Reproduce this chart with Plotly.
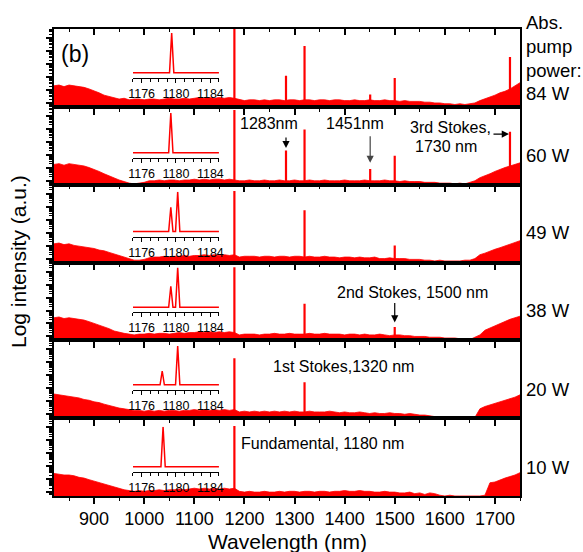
import plotly.graph_objects as go
import math

# ---------------- data ----------------
wl_start, wl_step = 820, 10
powers = ["84 W", "60 W", "49 W", "38 W", "20 W", "10 W"]

base_84 = [27,28,26,28,27,26,25,23,21,18, 15,13,11,10,11,9,10,10,9,10, 10,9,10,11,10,10,11,10,11,12,
           11,12,11,12,11,12,11,9,8,9, 9,8,9,8,9,9,8,9,9,8, 9,9,8,9,9,8,9,9,8,8,
           9,8,8,9,8,8,9,8,8,7, 8,7,7,7,6,6,5,5,4,4, 3,4,3,4,5,8,10,12,15,18, 20,23,27,31]
base_60 = [26,27,25,27,26,25,24,22,20,17, 14,11,8,6,4,2,1,2,3,5, 5,6,5,6,6,5,6,6,7,6,
           7,6,7,7,6,7,6,5,5,6, 5,5,6,5,5,6,5,5,6,5, 5,6,5,5,6,5,5,5,6,5,
           5,5,6,5,5,5,6,5,5,4, 5,4,4,4,3,3,3,2,2,2, 1,2,1,3,5,9,11,14,17,20, 22,24,26,28]
base_49 = [24,25,23,24,22,21,20,19,18,16, 15,13,11,9,7,5,3,3,4,6, 7,7,8,7,8,8,9,8,9,9,
           10,9,10,9,10,9,10,7,8,8, 8,7,8,8,7,8,8,7,8,8, 7,8,7,7,8,7,7,6,7,7,
           6,7,6,6,7,5,5,6,5,5, 5,4,4,4,3,3,2,3,2,2, 2,2,3,3,5,10,12,15,17,19, 21,23,25,28]
base_38 = [29,30,28,29,28,27,26,24,22,20, 18,15,12,10,9,8,7,8,8,9, 8,9,9,8,9,10,9,10,10,11,
           10,11,10,11,10,11,10,7,8,8, 8,7,8,8,9,8,8,9,8,8, 8,9,8,8,9,8,8,8,7,8,
           8,7,8,7,7,8,7,6,7,7, 6,6,5,5,5,4,4,4,3,3, 3,2,1,1,4,7,13,16,19,22, 24,27,29,31]
base_20 = [31,30,29,28,27,26,24,23,21,20, 18,16,15,13,12,11,10,10,9,10, 9,10,9,10,10,9,10,10,11,10,
           11,10,11,10,11,10,11,8,9,8, 9,8,9,8,9,8,9,8,9,8, 8,9,8,8,8,9,8,7,8,7,
           7,8,7,6,7,6,6,7,6,6, 5,6,5,4,4,3,2,2,1,2, 1,0,2,0,1,12,15,17,19,21, 23,25,27,30]
base_10 = [29,28,27,27,26,24,23,21,19,17, 15,13,11,9,8,7,6,7,6,7, 7,8,7,8,8,9,8,9,10,9,
           10,9,10,9,10,9,10,6,5,6, 5,5,6,5,5,6,5,6,6,5, 6,6,5,6,6,5,6,6,7,6,
           6,7,6,6,5,5,6,5,5,4, 4,5,3,4,2,4,3,1,0,1, 0,0,0,0,0,0,1,17,18,21, 23,25,27,30]
baselines = [base_84, base_60, base_49, base_38, base_20, base_10]

peak_wl = [[1180, 1283, 1320, 1451, 1500, 1730],
           [1180, 1283, 1320, 1451, 1500, 1730],
           [1180, 1320, 1500],
           [1180, 1320, 1500],
           [1180, 1320],
           [1180]]
peak_h = [[100, 40, 78, 16, 37, 64],
          [96, 44, 71, 20, 37, 68],
          [92, 67, 22],
          [94, 47, 17],
          [77, 46],
          [90]]

inset_wl = [[1179.5], [1179.4], [1179.4, 1180.2], [1179.4, 1180.2], [1178.4, 1180.2], [1178.5]]
inset_h = [[1.0], [1.0], [0.61, 1.0], [0.53, 1.0], [0.35, 0.98], [1.0]]

main_ticks = [900, 1000, 1100, 1200, 1300, 1400, 1500, 1600, 1700]
inset_ticks = [1176, 1180, 1184]

# ---------------- layout helpers ----------------
RED = "#ff0000"
FONT = "Liberation Sans, Arial, sans-serif"
inset_dom = [(0.373, 0.95), (0.346, 0.92), (0.333, 0.91), (0.36, 0.936), (0.365, 0.936), (0.31, 0.89)]

fig = go.Figure()
layout = dict(
    width=583, height=552,
    margin=dict(l=54, r=63, t=29, b=56),
    paper_bgcolor="white", plot_bgcolor="rgba(0,0,0,0)",
    showlegend=False,
    font=dict(family=FONT, color="black"),
)

# log-like y ticks
dec = 100 / 6.0
major_y = [5 + k * dec for k in range(-1, 7)]
minor_y = []
for m in major_y:
    for j in range(2, 10):
        minor_y.append(m + math.log10(j) * dec)
major_y = [v for v in major_y if 0 <= v <= 100]
minor_y = [v for v in minor_y if 0 <= v <= 100]

n = len(powers)
for i in range(n):
    k = i + 1
    sfx = "" if k == 1 else str(k)
    bot = 1 - (i + 1) / n
    top = 1 - i / n
    xs = [wl_start + wl_step * j for j in range(len(baselines[i]))]
    fig.add_trace(go.Scatter(x=xs, y=baselines[i], mode="lines", fill="tozeroy",
                             line=dict(color=RED, width=0.8), fillcolor=RED,
                             xaxis="x" + sfx, yaxis="y" + sfx, hoverinfo="skip"))
    px, py = [], []
    for w, h in zip(peak_wl[i], peak_h[i]):
        px += [w, w, None]
        py += [0, h, None]
    fig.add_trace(go.Scatter(x=px, y=py, mode="lines", line=dict(color=RED, width=2.2),
                             xaxis="x" + sfx, yaxis="y" + sfx, hoverinfo="skip"))
    layout["xaxis" + sfx] = dict(
        domain=[0, 1], anchor="y" + sfx, range=[820, 1750],
        showline=True, linecolor="black", linewidth=1.5, mirror=True,
        ticks="outside", tickvals=main_ticks, ticklen=6, tickwidth=1.5, tickcolor="black",
        minor=dict(dtick=50, tick0=850, ticks="outside", ticklen=3, tickwidth=1.2, tickcolor="black"),
        showticklabels=(i == n - 1), tickfont=dict(size=18, family=FONT),
        showgrid=False, zeroline=False, fixedrange=True,
    )
    layout["yaxis" + sfx] = dict(
        domain=[bot, top], anchor="x" + sfx, range=[0, 100],
        showline=True, linecolor="black", linewidth=1.5, mirror=True,
        ticks="outside", tickvals=major_y, ticklen=6, tickwidth=1.5, tickcolor="black",
        minor=dict(tickvals=minor_y, ticks="outside", ticklen=3, tickwidth=1, tickcolor="black"),
        showticklabels=False, showgrid=False, zeroline=False,
    )

    # inset
    ki = 7 + i
    ix, iy = [1175], [0]
    for w, h in zip(inset_wl[i], inset_h[i]):
        ix += [w - 0.25, w, w + 0.25]
        iy += [0, h, 0]
    ix.append(1185)
    iy.append(0)
    fig.add_trace(go.Scatter(x=ix, y=iy, mode="lines", line=dict(color=RED, width=1.5),
                             xaxis="x%d" % ki, yaxis="y%d" % ki, hoverinfo="skip"))
    d0, d1 = inset_dom[i]
    layout["xaxis%d" % ki] = dict(
        domain=[0.1695, 0.354], anchor="y%d" % ki, range=[1175, 1185],
        showline=True, linecolor="black", linewidth=1.2,
        ticks="outside", tickvals=inset_ticks, ticklen=4, tickwidth=1.2, tickcolor="black",
        minor=dict(dtick=1, tick0=1175, ticks="outside", ticklen=3, tickwidth=1, tickcolor="black"),
        tickfont=dict(size=12.5, family=FONT), showgrid=False, zeroline=False,
    )
    layout["yaxis%d" % ki] = dict(
        domain=[bot + d0 / n, bot + d1 / n], anchor="x%d" % ki, range=[-0.125, 1.0],
        visible=False, showgrid=False, zeroline=False,
    )

# top inside ticks of first panel
layout["xaxis13"] = dict(
    overlaying="x", side="top", anchor="y", range=[820, 1750],
    ticks="inside", tickvals=main_ticks, ticklen=6, tickwidth=1.5, tickcolor="black",
    minor=dict(dtick=50, tick0=850, ticks="inside", ticklen=3, tickwidth=1.2, tickcolor="black"),
    showticklabels=False, showgrid=False, zeroline=False, showline=False,
)
fig.add_trace(go.Scatter(x=[None], y=[None], xaxis="x13", yaxis="y", hoverinfo="skip"))

ann = []
def txt(text, x, y, xref, yref, size=16, **kw):
    d = dict(text=text, x=x, y=y, xref=xref, yref=yref, showarrow=False,
             font=dict(size=size, family=FONT, color="black"))
    d.update(kw)
    ann.append(d)

# right side power labels
RX = (524 - 54) / 466
RS = 18.5
right_y_px = [None, 155, 233, 310, 389, 467]
txt("Abs.", RX, (496 - 23) / 467, "paper", "paper", RS, xanchor="left", yanchor="middle")
txt("pump", RX, (496 - 47) / 467, "paper", "paper", RS, xanchor="left", yanchor="middle")
txt("power:", RX, (496 - 70) / 467, "paper", "paper", RS, xanchor="left", yanchor="middle")
txt(powers[0], RX, (496 - 93) / 467, "paper", "paper", RS, xanchor="left", yanchor="middle")
for i in range(1, n):
    txt(powers[i], RX, (496 - right_y_px[i]) / 467, "paper", "paper", RS,
        xanchor="left", yanchor="middle")

txt("(b)", 862, 68, "x", "y", 23)
txt("1283nm", 1249, 78, "x2", "y2", 16)
txt("1451nm", 1421, 78, "x2", "y2", 16)
txt("3rd Stokes,", 1612, 74, "x2", "y2", 16)
txt("1730 nm", 1603, 49, "x2", "y2", 16)
txt("2nd Stokes, 1500 nm", 1536, 61.5, "x4", "y4", 16)
txt("1st Stokes,1320 nm", 1397, 66.7, "x5", "y5", 16)
txt("Fundamental, 1180 nm", 1355, 68, "x6", "y6", 16)

def arrow(x, y, xref, yref, ax, ay, color="black"):
    ann.append(dict(text="", x=x, y=y, xref=xref, yref=yref, showarrow=True, ax=ax, ay=ay,
                    arrowhead=2, arrowsize=1.2, arrowwidth=1.2, arrowcolor=color))

arrow(1283, 47, "x2", "y2", 0, -12)
arrow(1451, 28, "x2", "y2", 0, -28, "#444444")
arrow(1728, 65, "x2", "y2", -17, 0)
arrow(1500, 23, "x4", "y4", 0, -21)

# axis titles
txt("Wavelength (nm)", 0.5, (496 - 541) / 467, "paper", "paper", 21, yanchor="middle")
txt("Log intensity (a.u.)", (18 - 54) / 466, 0.501, "paper", "paper", 21,
    textangle=-90, xanchor="center", yanchor="middle")

layout["annotations"] = ann
fig.update_layout(**layout)
fig.write_html("out.html")
